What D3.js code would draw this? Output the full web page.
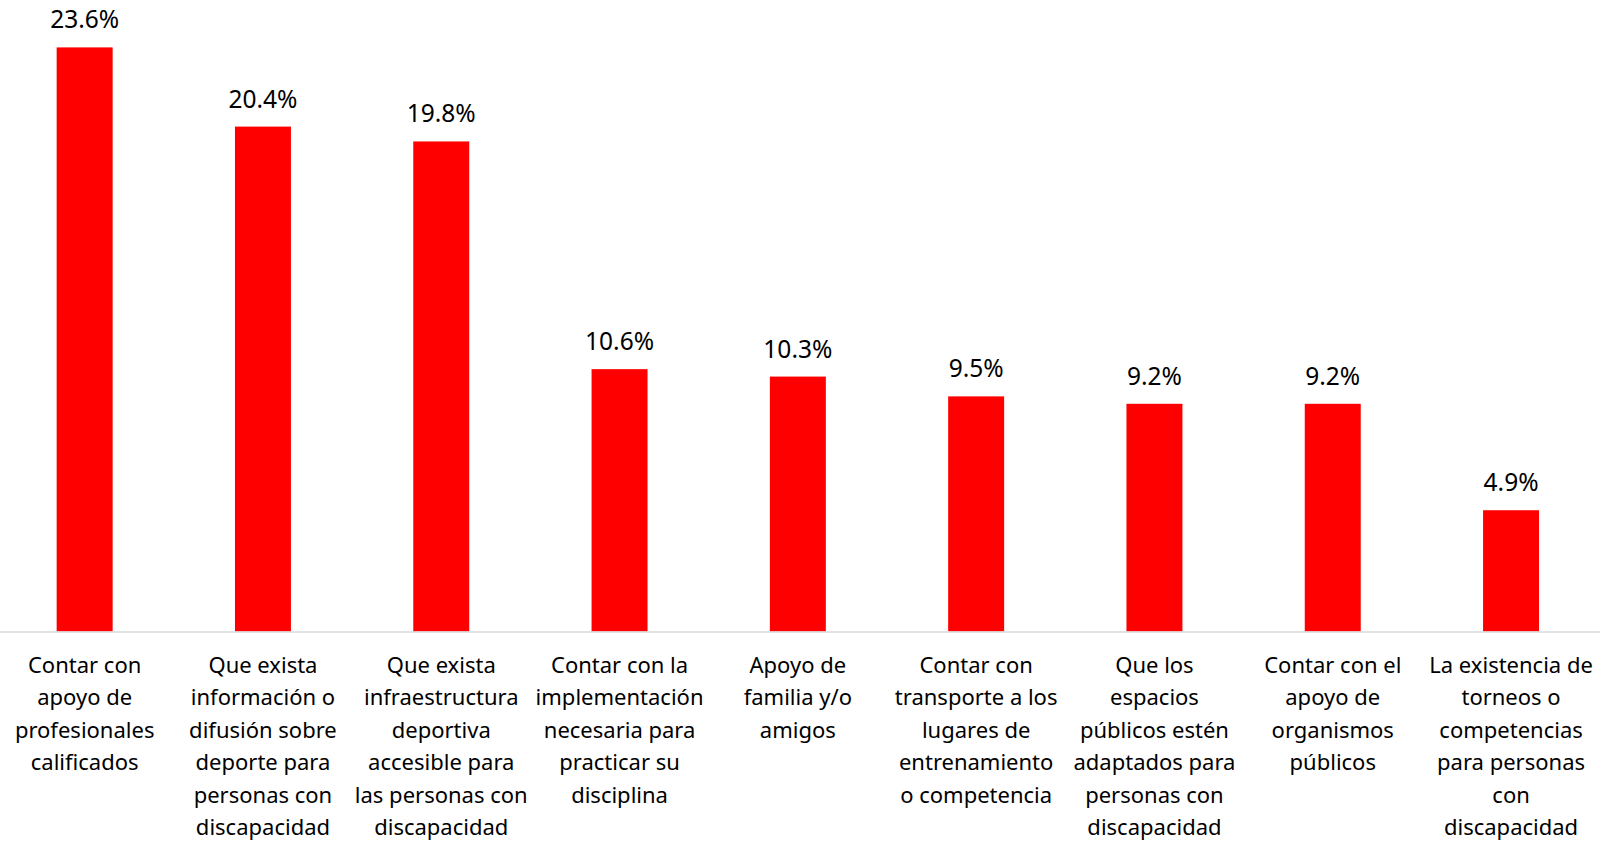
<!DOCTYPE html>
<html>
<head>
<meta charset="utf-8">
<script src="https://cdn.jsdelivr.net/npm/d3@7"></script>
<style>
    html, body { margin: 0; padding: 0; background: #fff; }
    svg { display: block; }
    .value { font-family: "Noto Sans", "Open Sans", sans-serif; font-size: 24.5px; fill: #000; }
    .cat { font-family: "Noto Sans", "Open Sans", sans-serif; font-size: 22px; fill: #000; }
</style>
</head>
<body>
<svg id="container"></svg>
<script>
// categories (line breaks as in the original labels)
var categories = [
    "Contar con\napoyo de\nprofesionales\ncalificados",
    "Que exista\ninformación o\ndifusión sobre\ndeporte para\npersonas con\ndiscapacidad",
    "Que exista\ninfraestructura\ndeportiva\naccesible para\nlas personas con\ndiscapacidad",
    "Contar con la\nimplementación\nnecesaria para\npracticar su\ndisciplina",
    "Apoyo de\nfamilia y/o\namigos",
    "Contar con\ntransporte a los\nlugares de\nentrenamiento\no competencia",
    "Que los\nespacios\npúblicos estén\nadaptados para\npersonas con\ndiscapacidad",
    "Contar con el\napoyo de\norganismos\npúblicos",
    "La existencia de\ntorneos o\ncompetencias\npara personas\ncon\ndiscapacidad"
];
var values = [23.6, 20.4, 19.8, 10.6, 10.3, 9.5, 9.2, 9.2, 4.9];

function drawChart(){
    const W = 1600, H = 841;
    const baseY = 631.5;

    var data = categories.map((c, i) => ({cat: c, value: values[i]}));

    var svg = d3.select("#container")
        .attr("width", W)
        .attr("height", H);

    var xScale = d3.scaleBand()
        .domain(categories)
        .range([-4.5, 1600.2])
        .paddingInner(0.686)
        .paddingOuter(0.343);

    var yScale = d3.scaleLinear()
        .domain([0, 25.5])
        .range([baseY, baseY - 25.5 * 24.75]);

    // bars
    svg.selectAll(".bar")
        .data(data)
        .enter()
        .append("rect")
        .attr("class", "bar")
        .attr("x", d => xScale(d.cat))
        .attr("y", d => yScale(d.value))
        .attr("width", xScale.bandwidth())
        .attr("height", d => yScale(0) - yScale(d.value))
        .attr("fill", "#ff0000");

    // axis line
    svg.append("line")
        .attr("x1", 0)
        .attr("x2", W)
        .attr("y1", yScale(0) + 0.5)
        .attr("y2", yScale(0) + 0.5)
        .attr("stroke", "#d9d9d9")
        .attr("stroke-width", 1.5);

    // value labels
    svg.selectAll(".value")
        .data(data)
        .enter()
        .append("text")
        .attr("class", "value")
        .attr("x", d => xScale(d.cat) + xScale.bandwidth() / 2)
        .attr("y", d => yScale(d.value) - 19)
        .attr("text-anchor", "middle")
        .text(d => d.value.toFixed(1) + "%");

    // category labels
    var lbl = svg.selectAll(".cat")
        .data(data)
        .enter()
        .append("text")
        .attr("class", "cat")
        .attr("text-anchor", "middle")
        .attr("transform", d => "translate(" + (xScale(d.cat) + xScale.bandwidth() / 2) + "," + 673 + ")");

    lbl.selectAll("tspan")
        .data(d => d.cat.split("\n"))
        .enter()
        .append("tspan")
        .attr("x", 0)
        .attr("y", (d, i) => i * 32.4)
        .text(d => d);
}

drawChart();
</script>
</body>
</html>
